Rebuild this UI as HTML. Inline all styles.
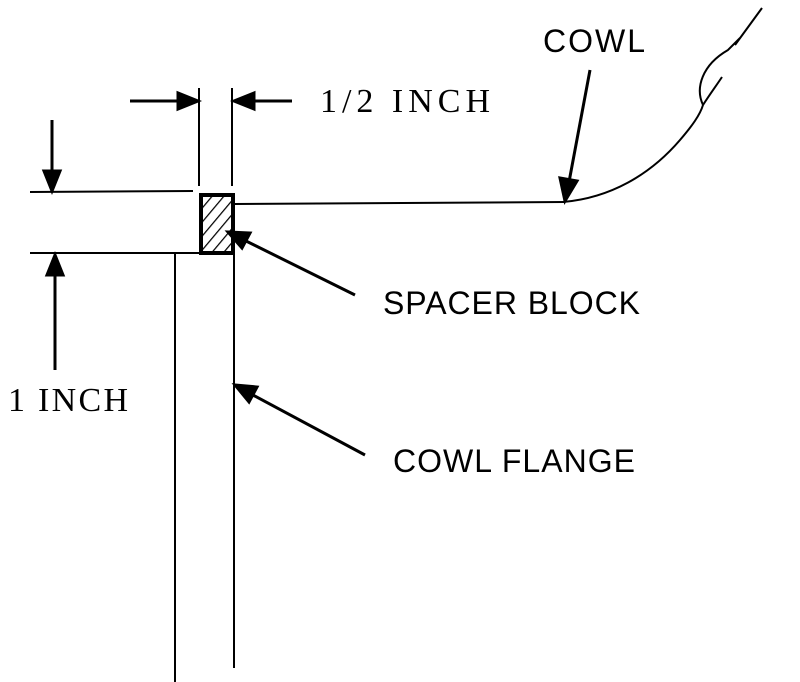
<!DOCTYPE html>
<html><head><meta charset="utf-8"><style>html,body{margin:0;padding:0;background:#fff}svg{display:block}</style></head>
<body>
<svg width="800" height="682" viewBox="0 0 800 682">
<defs>
<pattern id="hatch" width="9" height="9" patternUnits="userSpaceOnUse" patternTransform="rotate(40)">
<line x1="0" y1="0" x2="0" y2="9" stroke="#000" stroke-width="2.5"/>
</pattern>
</defs>
<g stroke="#000" fill="none" stroke-width="2">
<line x1="199" y1="88" x2="199" y2="186"/>
<line x1="232" y1="88" x2="232" y2="186"/>
<line x1="30" y1="192" x2="193" y2="191"/>
<line x1="30" y1="253" x2="190" y2="253"/>
<line x1="235" y1="204" x2="565" y2="202"/>
<path d="M563 202 C610 198 650 175 680 140 C692 126 700 115 703 105 C695 88 702 65 728 50 L740 38 M703 105 C710 94 716 86 722 77 M735 45 L762 8"/>
<line x1="175" y1="253" x2="175" y2="682"/>
<line x1="234" y1="253" x2="234" y2="668"/>
<line x1="175" y1="253" x2="200" y2="253"/>
</g>
<rect x="201" y="195" width="32" height="58" fill="url(#hatch)" stroke="#000" stroke-width="4"/>
<g stroke="#000" stroke-width="3" fill="#000">
<line x1="130" y1="101" x2="182" y2="101"/><polygon points="198,101 178,93 178,109"/>
<line x1="292" y1="101" x2="250" y2="101"/><polygon points="234,101 254,93 254,109"/>
<line x1="52" y1="120" x2="52" y2="175"/><polygon points="52,191 44,171 60,171"/>
<line x1="55" y1="370" x2="55" y2="272"/><polygon points="55,255 47,275 63,275"/>
<line x1="590" y1="70" x2="569" y2="182"/><polygon points="565,201 560,178 577,181"/>
<line x1="355" y1="295" x2="244" y2="240"/><polygon points="228,232 250,233 242,248"/>
<line x1="365" y1="455" x2="251" y2="394"/><polygon points="235,385 257,387 249,402"/>
</g>
<g fill="#000">
<text x="320" y="112" font-family="Liberation Serif, serif" font-size="34" textLength="170">1/2 INCH</text>
<text x="8" y="411" font-family="Liberation Serif, serif" font-size="34" textLength="120">1 INCH</text>
<text x="543" y="52" font-family="Liberation Sans, sans-serif" font-size="32" textLength="102">COWL</text>
<text x="383" y="314" font-family="Liberation Sans, sans-serif" font-size="32" textLength="257">SPACER BLOCK</text>
<text x="393" y="472" font-family="Liberation Sans, sans-serif" font-size="32" textLength="242">COWL FLANGE</text>
</g>
</svg>
</body></html>
